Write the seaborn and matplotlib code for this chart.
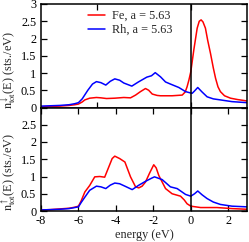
import numpy as np
import pandas as pd
import matplotlib
matplotlib.use("Agg")
import matplotlib.pyplot as plt
import seaborn as sns

# ---- data ----
fe_dn_e = [-8.0, -7.5, -7.0, -6.5, -6.2, -6.0, -5.8, -5.66, -5.4, -5.04, -4.8, -4.5, -4.06, -3.58,
           -3.22, -2.95, -2.69, -2.42, -2.25, -2.06, -1.8, -1.62, -1.0, -0.46, -0.3, -0.2, -0.1,
           0.0, 0.16, 0.34, 0.45, 0.55, 0.65, 0.78, 0.9, 1.05, 1.2, 1.32, 1.45, 1.58, 1.8, 2.12, 2.5, 3.0]
fe_dn = [0.02, 0.03, 0.04, 0.06, 0.08, 0.10, 0.16, 0.22, 0.27, 0.29, 0.28, 0.26, 0.27, 0.29,
         0.28, 0.36, 0.46, 0.55, 0.50, 0.39, 0.35, 0.34, 0.34, 0.36, 0.45, 0.60, 0.80,
         1.04, 1.67, 2.30, 2.50, 2.54, 2.48, 2.30, 1.95, 1.57, 1.15, 0.85, 0.60, 0.46, 0.34, 0.27, 0.23, 0.19]

rh_dn_e = [-8.0, -7.5, -7.0, -6.5, -6.2, -6.0, -5.8, -5.5, -5.25, -5.04, -4.8, -4.54, -4.3, -4.06,
           -3.8, -3.58, -3.15, -2.8, -2.35, -2.1, -1.9, -1.62, -1.35, -1.09, -0.64, -0.28, 0.07,
           0.2, 0.37, 0.6, 0.87, 1.2, 1.58, 2.2, 3.0]
rh_dn = [0.04, 0.05, 0.06, 0.08, 0.11, 0.14, 0.25, 0.50, 0.68, 0.75, 0.72, 0.65, 0.76, 0.83,
         0.79, 0.71, 0.62, 0.74, 0.88, 0.92, 1.01, 0.89, 0.74, 0.68, 0.58, 0.46, 0.41,
         0.48, 0.58, 0.45, 0.31, 0.25, 0.22, 0.17, 0.14]

fe_up_e = [-8.0, -7.5, -7.0, -6.5, -6.2, -6.0, -5.85, -5.66, -5.4, -5.13, -4.86, -4.6, -4.4, -4.2,
           -4.06, -3.8, -3.52, -3.22, -2.95, -2.78, -2.6, -2.42, -2.2, -1.98, -1.85, -1.71, -1.35,
           -1.0, -0.55, -0.35, -0.2, 0.0, 0.52, 1.4, 2.2, 3.0]
fe_up = [0.03, 0.04, 0.06, 0.08, 0.11, 0.14, 0.30, 0.55, 0.74, 0.99, 1.00, 0.98, 1.25, 1.52,
         1.59, 1.52, 1.42, 0.99, 0.70, 0.67, 0.72, 0.84, 1.10, 1.34, 1.25, 1.03, 0.65,
         0.50, 0.43, 0.32, 0.21, 0.14, 0.10, 0.10, 0.07, 0.05]

rh_up_e = [-8.0, -7.5, -7.0, -6.5, -6.2, -6.0, -5.85, -5.66, -5.4, -5.04, -4.8, -4.54, -4.3, -4.06,
           -3.8, -3.52, -3.13, -2.8, -2.42, -2.1, -1.94, -1.53, -1.09, -0.73, -0.28, 0.0, 0.2,
           0.37, 0.6, 0.87, 1.2, 1.58, 2.2, 3.0]
rh_up = [0.03, 0.04, 0.05, 0.07, 0.10, 0.12, 0.25, 0.40, 0.60, 0.72, 0.70, 0.65, 0.75, 0.81,
         0.79, 0.72, 0.62, 0.74, 0.86, 0.95, 0.99, 0.91, 0.70, 0.65, 0.48, 0.43, 0.50,
         0.58, 0.47, 0.36, 0.26, 0.19, 0.14, 0.12]

labels = ["Fe, a = 5.63", "Rh, a = 5.63"]
colors = ["#ff0000", "#0000ff"]
xticks_bottom = [-8, -6, -4, -2, 0, 2]
yticks = [0, 0.5, 1, 1.5, 2, 2.5, 3]

def frame(e_fe, v_fe, e_rh, v_rh):
    return pd.concat([
        pd.DataFrame({"energy": e_fe, "dos": v_fe, "species": labels[0]}),
        pd.DataFrame({"energy": e_rh, "dos": v_rh, "species": labels[1]}),
    ], ignore_index=True)

df_dn = frame(fe_dn_e, fe_dn, rh_dn_e, rh_dn)
df_up = frame(fe_up_e, fe_up, rh_up_e, rh_up)

sns.set_style("ticks")
plt.rcParams["font.family"] = ["Liberation Serif", "DejaVu Serif"]
plt.rcParams["mathtext.fontset"] = "stix"
plt.rcParams["axes.linewidth"] = 1.1

fs = 8.8
fig = plt.figure(figsize=(2.49, 2.42), dpi=100)
ax1 = fig.add_axes([41/249, (242-107.5)/242, 206/249, 103.5/242])
ax2 = fig.add_axes([41/249, (242-211)/242, 206/249, 103.5/242])

pal = dict(zip(labels, colors))
sns.lineplot(data=df_dn, x="energy", y="dos", hue="species", palette=pal, ax=ax1,
             linewidth=1.1, sort=False, estimator=None)
sns.lineplot(data=df_up, x="energy", y="dos", hue="species", palette=pal, ax=ax2,
             linewidth=1.1, sort=False, estimator=None, legend=False)

for ax in (ax1, ax2):
    ax.set_xlim(-8, 3)
    ax.set_ylim(0, 3)
    ax.axvline(0, color="black", linewidth=1.1)
    ax.set_yticks(yticks)
    ax.tick_params(direction="in", length=4, width=0.9, top=True, right=True,
                   labelsize=fs, colors="black")
    ax.tick_params(axis="y", pad=3.5)
    ax.tick_params(axis="x", pad=3)
    for s in ax.spines.values():
        s.set_color("black")

ax1.set_xticks([-5, 0])
ax1.set_xticklabels([])
ax1.set_xlabel("")
ax1.set_yticklabels(["0", "0.5", "1", "1.5", "2", "2.5", "3"])
ax1.set_ylabel(r"$\mathrm{n}_{\mathrm{tot}}^{\downarrow}$(E) (sts./eV)", fontsize=fs)
ax1.yaxis.set_label_coords(-0.112, 0.36)

ax2.set_xticks(xticks_bottom)
ax2.set_xticklabels([str(t) for t in xticks_bottom])
ax2.set_yticklabels(["0", "0.5", "1", "1.5", "2", "2.5", ""])
ax2.set_xlabel("energy (eV)", fontsize=fs, labelpad=1)
ax2.set_ylabel(r"$\mathrm{n}_{\mathrm{tot}}^{\uparrow}$(E) (sts./eV)", fontsize=fs)
ax2.yaxis.set_label_coords(-0.112, 0.38)

leg = ax1.legend(loc="upper left", bbox_to_anchor=((88-41)/206, (107.5-10)/103.5),
                 frameon=False, fontsize=fs, handlelength=1.4, handletextpad=0.55,
                 labelspacing=0.15, borderpad=0, borderaxespad=0)
for h in leg.get_lines():
    h.set_linewidth(1.1)

fig.savefig("out.png", dpi=100)
